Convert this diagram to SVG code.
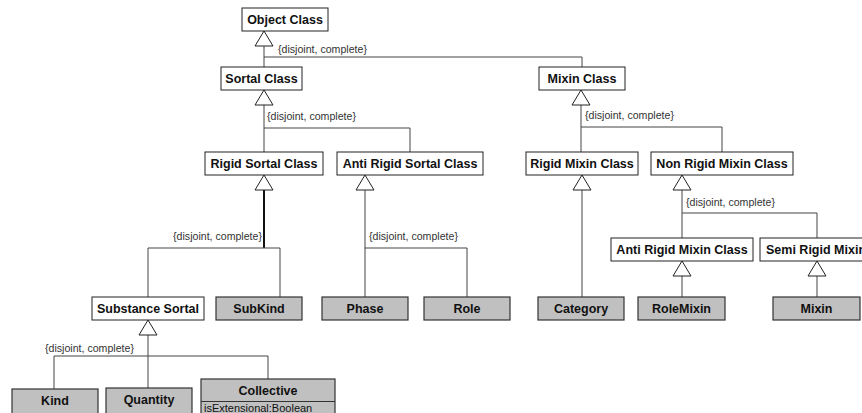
<svg xmlns="http://www.w3.org/2000/svg" width="862" height="413" viewBox="0 0 862 413">
<style>
.box{fill:#fff;stroke:#222;stroke-width:1}
.g{fill:#c0c0c0;stroke:#333;stroke-width:1.2}
.t{font-family:"Liberation Sans",Arial,sans-serif;font-weight:bold;font-size:12.5px;fill:#111;text-anchor:middle}
.a{font-family:"Liberation Sans",Arial,sans-serif;font-size:11px;fill:#111}
.lbl{font-family:"Liberation Sans",Arial,sans-serif;font-size:10.6px;fill:#333}
.c{fill:none;stroke:#444;stroke-width:1}
.thick{fill:none;stroke:#111;stroke-width:2}
.tri{fill:#fff;stroke:#222;stroke-width:1}
</style>
<rect width="862" height="413" fill="#fff"/>
<g id="connectors">
<path class="c" d="M264,46V67M264,57H582V67"/>
<path class="c" d="M264,105V152M264,128H410V152"/>
<path class="c" d="M581,105V152M581,127H722V152"/>
<path class="thick" d="M264,190V248"/>
<path class="c" d="M148,248H280M148,248V297M280,248V297"/>
<path class="c" d="M365,190V297M365,248H467V297"/>
<path class="c" d="M582,190V297"/>
<path class="c" d="M682,190V238M682,213H817V238"/>
<path class="c" d="M682,276V297"/>
<path class="c" d="M817,276V297"/>
<path class="c" d="M148,335V388M54,356H268M54,356V389M268,356V379"/>
<polygon class="tri" points="264,31 255,46 273,46"/>
<polygon class="tri" points="264,90 255,105 273,105"/>
<polygon class="tri" points="581,90 572,105 590,105"/>
<polygon class="tri" points="264,175 255,190 273,190"/>
<polygon class="tri" points="365,175 356,190 374,190"/>
<polygon class="tri" points="582,175 573,190 591,190"/>
<polygon class="tri" points="682,175 673,190 691,190"/>
<polygon class="tri" points="682,261 673,276 691,276"/>
<polygon class="tri" points="817,261 808,276 826,276"/>
<polygon class="tri" points="148,320 139,335 157,335"/>
<text class="lbl" x="278" y="53">{disjoint, complete}</text>
<text class="lbl" x="267" y="120">{disjoint, complete}</text>
<text class="lbl" x="585" y="119">{disjoint, complete}</text>
<text class="lbl" x="262" y="240" style="text-anchor:end">{disjoint, complete}</text>
<text class="lbl" x="369" y="240">{disjoint, complete}</text>
<text class="lbl" x="686" y="206">{disjoint, complete}</text>
<text class="lbl" x="45" y="352">{disjoint, complete}</text>
</g>
<g id="object-class"><rect class="box" x="242" y="8" width="86" height="23"/><text class="t" x="285" y="24">Object Class</text></g>
<g id="sortal-class"><rect class="box" x="221" y="67" width="81" height="23"/><text class="t" x="261.5" y="83">Sortal Class</text></g>
<g id="mixin-class"><rect class="box" x="539" y="67" width="86" height="23"/><text class="t" x="582" y="83">Mixin Class</text></g>
<g id="rigid-sortal-class"><rect class="box" x="205" y="152" width="118" height="23"/><text class="t" x="264" y="168">Rigid Sortal Class</text></g>
<g id="anti-rigid-sortal-class"><rect class="box" x="337" y="152" width="146" height="23"/><text class="t" x="410" y="168">Anti Rigid Sortal Class</text></g>
<g id="rigid-mixin-class"><rect class="box" x="526" y="152" width="112" height="23"/><text class="t" x="582" y="168">Rigid Mixin Class</text></g>
<g id="non-rigid-mixin-class"><rect class="box" x="651" y="152" width="142" height="23"/><text class="t" x="722" y="168">Non Rigid Mixin Class</text></g>
<g id="anti-rigid-mixin-class"><rect class="box" x="611" y="238" width="142" height="23"/><text class="t" x="682" y="254">Anti Rigid Mixin Class</text></g>
<g id="semi-rigid-mixin"><rect class="box" x="760" y="238" width="130" height="23"/><text class="t" x="766" y="254" style="text-anchor:start">Semi Rigid Mixin</text></g>
<g id="substance-sortal"><rect class="box" x="92" y="297" width="112" height="23"/><text class="t" x="148" y="313">Substance Sortal</text></g>
<g id="subkind"><rect class="g" x="216" y="297" width="86" height="23"/><text class="t" x="259" y="313">SubKind</text></g>
<g id="phase"><rect class="g" x="322" y="297" width="86" height="23"/><text class="t" x="365" y="313">Phase</text></g>
<g id="role"><rect class="g" x="424" y="297" width="86" height="23"/><text class="t" x="467" y="313">Role</text></g>
<g id="category"><rect class="g" x="538" y="297" width="86" height="23"/><text class="t" x="581" y="313">Category</text></g>
<g id="rolemixin"><rect class="g" x="638" y="297" width="87" height="23"/><text class="t" x="681.5" y="313">RoleMixin</text></g>
<g id="mixin"><rect class="g" x="773" y="297" width="87" height="23"/><text class="t" x="816.5" y="313">Mixin</text></g>
<g id="kind"><rect class="g" x="12" y="389" width="86" height="40"/><text class="t" x="55" y="405">Kind</text></g>
<g id="quantity"><rect class="g" x="106" y="388" width="86" height="40"/><text class="t" x="149" y="404">Quantity</text></g>
<g id="collective"><rect class="g" x="201" y="379" width="134" height="50"/><line x1="201" y1="401.5" x2="335" y2="401.5" stroke="#333" stroke-width="1"/><text class="t" x="268" y="395">Collective</text><text class="a" x="204" y="412">isExtensional:Boolean</text></g>
</svg>
